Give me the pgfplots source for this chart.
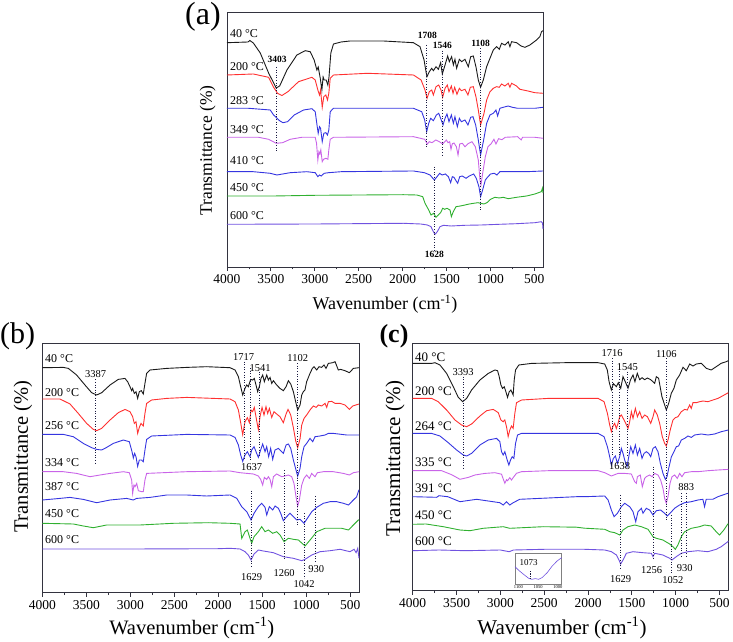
\documentclass[border=0pt]{standalone}
\usepackage{pgfplots}
\pgfplotsset{compat=1.18}
\usepackage{fontspec}
\setmainfont{Liberation Serif}
\definecolor{cK}{HTML}{1A1A1A}
\definecolor{cR}{HTML}{FF3030}
\definecolor{cB}{HTML}{3535E0}
\definecolor{cV}{HTML}{C964E8}
\definecolor{cG}{HTML}{30B030}
\definecolor{cP}{HTML}{7052E0}
\definecolor{axc}{HTML}{33333F}
\definecolor{dotc}{HTML}{1A1A40}
\pgfplotsset{
  ftir/.style={
    scale only axis, x dir=reverse, xmin=400, xmax=4000, ymin=0,
    xtick={500,1000,...,4000}, minor x tick num=1, ytick=\empty,
    xtick pos=bottom, tick align=outside,
    major tick length=4pt, minor tick length=2.5pt,
    axis line style={line width=0.9pt, color=axc},
    every tick/.style={line width=0.8pt, color=axc},
    tick label style={font=\fontsize{13.5}{14}\selectfont},
    /pgf/number format/assume math mode=true,
    /pgf/number format/1000 sep={},
    xlabel={Wavenumber (cm\textsuperscript{-1})}, ylabel={Transmittance (\%)},
    clip=false,
    every axis plot/.append style={line width=0.9pt, no marks},
  },
  dotline/.style={dotc, line width=0.95pt, dash pattern=on 1pt off 1.6pt},
}
\begin{document}
\begin{tikzpicture}
\useasboundingbox (0,0) rectangle (733pt,642pt);
\node[font=\fontsize{32}{34}\selectfont] at (203pt,625.5pt) {(a)};
\node[font=\fontsize{30}{32}\selectfont] at (17.5pt,306pt) {(b)};
\node[font=\fontsize{26}{28}\selectfont\bfseries] at (394pt,306.2pt) {(c)};

%%%%%%%%%%%%%%%% (a)
\begin{axis}[ftir, at={(227pt,375pt)}, anchor=south west, width=316pt, height=255pt, ymax=255,
  xlabel style={at={(axis description cs:0.5,-0.145)}, anchor=center, font=\fontsize{18}{20}\selectfont},
  ylabel style={at={(axis description cs:-0.061,0.457)}, anchor=center, font=\fontsize{17.5}{19}\selectfont}]
\addplot[cK] coordinates {(4000,224.3)(3760,225)(3740,226.5)(3700,224)(3621,214)(3526,194)(3440,179)(3400,181)(3317,197)(3204,212)(3109,216.3)(3052,215.3)(3007,207)(2976,197)(2961,200)(2938,189)(2919,177)(2905,190)(2893,187)(2870,187)(2851,182)(2838,190)(2817,214)(2787,223)(2700,225)(2597,226)(2218,226)(1876,224.3)(1801,220.3)(1755,207)(1733,195.3)(1722,190.3)(1695,195.3)(1668,198.7)(1649,196.3)(1619,200.3)(1592,197.7)(1566,204.3)(1547,193)(1516,202)(1486,211)(1467,205.3)(1441,210.3)(1421,202)(1403,207.7)(1384,198.7)(1353,207.7)(1327,205.3)(1289,207.7)(1251,200.3)(1224,210.3)(1194,211)(1164,200.3)(1137,187)(1111,179.7)(1080,187)(1042,200.3)(1004,208.7)(966,217)(929,220.3)(898,217.7)(872,223.7)(834,222)(796,225.3)(777,220.3)(758,225.3)(701,224.3)(650,221)(606,219.7)(549,222)(474,227)(436,230.3)(417,235.3)(400,236.3)};
\addplot[cR] coordinates {(4000,192)(3700,193)(3526,189.7)(3469,179.7)(3424,173.7)(3374,171.5)(3306,175.3)(3185,185.3)(3033,189.7)(2995,187)(2965,177)(2946,172)(2934,177)(2915,159.7)(2897,170.3)(2874,172)(2855,167)(2840,173.7)(2824,188.7)(2787,192)(2400,193.7)(1876,192)(1789,187)(1744,177)(1721,168.7)(1695,175.3)(1668,177)(1649,172)(1619,180.3)(1588,182)(1562,177)(1543,169.7)(1516,178.7)(1490,182)(1471,175.3)(1444,181)(1425,173.7)(1406,179.7)(1380,172.7)(1353,178.7)(1330,176.3)(1289,177.7)(1255,172)(1228,179.7)(1194,180.3)(1164,170.3)(1137,157)(1111,142)(1072,153.7)(1042,167)(1004,175.3)(966,178.7)(929,180.3)(898,179.7)(872,183)(834,181)(796,183.7)(777,179.7)(758,183.7)(701,181)(663,177.7)(587,176.3)(492,174.3)(400,173.7)};
\addplot[cB] coordinates {(4000,158.7)(3754,158.7)(3507,157)(3469,152)(3401,146.3)(3363,144.3)(3310,145.3)(3234,152)(3128,157)(3033,158.3)(2995,155.3)(2972,140.3)(2961,133.7)(2946,140.3)(2934,138.7)(2915,125.3)(2897,133.7)(2874,134.3)(2855,132)(2840,137)(2824,155.3)(2787,158.7)(1876,158.7)(1782,155.3)(1748,147)(1725,135.3)(1702,143.7)(1680,148.7)(1649,146.3)(1615,152)(1588,153.7)(1562,147.7)(1539,142)(1516,148.7)(1494,153)(1471,145.3)(1444,152)(1421,143.7)(1403,150.3)(1376,140.3)(1353,148.7)(1330,145.3)(1289,147)(1255,142)(1224,149.7)(1198,150.3)(1167,142)(1137,127)(1111,112)(1080,125.3)(1042,143.7)(1004,152)(966,153.7)(936,157)(917,151)(891,158.7)(853,159.7)(796,161)(750,159.7)(689,158.7)(587,158.7)(492,158.7)(400,159.7)};
\addplot[cV] coordinates {(4000,129.7)(3640,129.7)(3526,127.7)(3439,123.7)(3367,124.3)(3280,127.7)(3147,129.7)(2995,129.7)(2980,123.7)(2965,107)(2953,115.3)(2942,113)(2931,117)(2915,105.3)(2900,107.7)(2874,108.7)(2851,107.7)(2840,117)(2824,127.7)(2787,129.7)(1876,130.3)(1748,127.7)(1717,123)(1695,125.3)(1664,124.3)(1622,127)(1581,125.3)(1543,123)(1501,127)(1482,124.3)(1463,125.3)(1448,117.7)(1433,123.3)(1414,124)(1387,120.3)(1368,112)(1349,123)(1319,123.7)(1289,120.3)(1255,123.3)(1209,125.3)(1171,120.3)(1137,107)(1118,87)(1107,82)(1088,93.3)(1057,110.3)(1027,120.3)(993,123)(959,127.7)(936,123)(906,128.3)(868,127.3)(830,129.7)(689,130.3)(648,127)(633,129.7)(492,129.7)(400,128.7)};
\addplot[cB] coordinates {(4000,95.3)(3700,95.3)(3507,93.7)(3431,92)(3280,94.3)(3090,95.3)(2995,94.3)(2965,90.3)(2946,92)(2927,91)(2893,93.7)(2843,94.3)(2699,95.3)(1876,96)(1751,94.3)(1687,92)(1638,87)(1607,90.3)(1577,93.7)(1550,92)(1512,93)(1478,90.3)(1452,84.3)(1433,90.3)(1414,89.7)(1384,85.3)(1372,83.7)(1349,90.3)(1319,91)(1277,88.7)(1240,91)(1190,93)(1160,88.7)(1130,80.3)(1111,70.3)(1088,77)(1057,87)(1027,90.3)(997,93)(955,93.7)(925,92)(891,95.3)(796,95.3)(587,95.3)(400,96)};
\addplot[cG] coordinates {(4000,71)(3469,71)(2995,71.7)(2483,72)(1990,72.3)(1838,72)(1770,70.3)(1744,63.7)(1702,57)(1676,52)(1645,53.7)(1619,49.7)(1592,52)(1566,54.3)(1543,58.7)(1520,57.7)(1494,58.7)(1459,57)(1444,50.3)(1422,55.3)(1391,60.3)(1342,61)(1289,62)(1240,63)(1190,63.7)(1141,64.3)(1111,63.7)(1073,63)(1039,64.3)(997,67.7)(948,69.7)(898,69)(853,69.7)(796,68.3)(701,69.7)(587,71)(492,73)(420,75.3)(405,79)(400,74)};
\addplot[cP] coordinates {(4000,42.7)(2995,43)(1990,43.7)(1793,43)(1717,42)(1676,40.3)(1649,35.3)(1630,32.7)(1604,35.3)(1573,40.3)(1535,41.7)(1448,41)(1289,41.7)(1103,42)(898,42.7)(701,43.3)(492,44.3)(420,45.3)(405,44)(400,38)};
\addplot[dotline] coordinates {(3442,200)(3442,116)};
\addplot[dotline] coordinates {(1725,222)(1725,118.7)};
\addplot[dotline] coordinates {(1547,216.3)(1547,111)};
\addplot[dotline] coordinates {(1111,218.7)(1111,56.3)};
\addplot[dotline] coordinates {(1638,100.3)(1638,17)};
\begin{scope}[every node/.style={font=\fontsize{9.5}{10}\selectfont\bfseries, inner sep=0pt}]
\node at (axis cs:3428,207.5) {3403};
\node at (axis cs:1717,232) {1708};
\node at (axis cs:1547,221.5) {1546};
\node at (axis cs:1111,224) {1108};
\node at (axis cs:1638,12.5) {1628};
\end{scope}
\begin{scope}[every node/.style={font=\fontsize{12}{13}\selectfont, anchor=west, inner sep=0pt}]
\node at (axis cs:3966,233.7) {40 °C};
\node at (axis cs:3966,200.3) {200 °C};
\node at (axis cs:3966,166.5) {283 °C};
\node at (axis cs:3966,137) {349 °C};
\node at (axis cs:3966,106.3) {410 °C};
\node at (axis cs:3966,79.3) {450 °C};
\node at (axis cs:3966,51.3) {600 °C};
\end{scope}
\end{axis}

%%%%%%%%%%%%%%%% (b)
\begin{axis}[ftir, at={(42.3pt,49.3pt)}, anchor=south west, width=316.7pt, height=249.4pt, ymax=249.4,
  xlabel style={at={(axis description cs:0.472,-0.141)}, anchor=center, font=\fontsize{20.5}{22}\selectfont},
  ylabel style={at={(axis description cs:-0.061,0.545)}, anchor=center, font=\fontsize{20.5}{22}\selectfont}]
\addplot[cK] coordinates {(4000,225)(3761,225.3)(3704,224.3)(3610,217.7)(3515,207.7)(3439,200)(3382,197.7)(3325,200)(3230,207.7)(3136,213.3)(3060,214.3)(3030,211)(3003,206)(2984,202)(2973,204.3)(2954,199.3)(2935,201)(2916,194.3)(2897,201)(2874,202)(2852,198.7)(2833,209.3)(2814,219.3)(2776,222.7)(2586,224.3)(2359,225.3)(2132,226)(1866,225)(1809,222.7)(1771,216)(1745,206)(1722,197.7)(1696,204.3)(1677,207.7)(1658,206)(1631,213.3)(1609,212.7)(1590,214.3)(1571,207.7)(1552,201)(1533,206)(1514,214.3)(1495,217.7)(1476,211)(1449,217.7)(1430,212.7)(1411,215.3)(1392,209.3)(1373,212)(1336,207.7)(1298,204.3)(1260,202)(1229,206)(1203,212)(1176,208.7)(1146,201)(1120,191)(1097,182.7)(1070,187.7)(1051,197.7)(1032,201)(1014,202.7)(995,211)(957,219.3)(930,224.3)(911,226)(881,222.7)(854,226)(824,225.3)(797,227.7)(775,224.3)(748,229.3)(699,230)(672,231)(635,222.7)(608,223.3)(559,222)(509,220)(464,224.3)(400,225)};
\addplot[cR] coordinates {(4000,193.7)(3799,193.7)(3685,188.7)(3591,179.3)(3496,169.3)(3420,163.3)(3382,162)(3325,164.3)(3230,172.7)(3136,180)(3060,183.3)(3003,181)(2973,176)(2954,169.3)(2935,171)(2916,159.3)(2897,165.3)(2878,169.3)(2852,166.7)(2833,179.3)(2814,189.3)(2757,192.7)(2586,194.3)(2359,195.3)(1866,193.7)(1809,191)(1771,182.7)(1745,170)(1722,158)(1696,171)(1669,175)(1646,170)(1627,182.7)(1609,181)(1590,185.3)(1563,172)(1544,163)(1525,176)(1502,185.3)(1480,177.7)(1457,186)(1438,179.3)(1419,184.3)(1392,175.3)(1366,181)(1336,178.7)(1298,176)(1260,170)(1229,178.7)(1207,183.3)(1176,177.7)(1146,165)(1120,152)(1097,145)(1070,154)(1051,167.7)(1025,174.3)(995,177.7)(957,182.7)(919,186.7)(888,185.3)(862,187.7)(824,186.7)(786,189.3)(767,185.3)(748,191)(710,191.3)(672,189.3)(615,189.3)(559,187.7)(509,183.3)(471,186.7)(400,188.7)};
\addplot[cB] coordinates {(4000,158.3)(3761,158.3)(3648,156)(3534,149.3)(3439,145)(3382,143.3)(3325,142.7)(3268,145.3)(3193,149.3)(3079,152.7)(3011,151)(2980,141)(2965,134.7)(2950,139.3)(2935,136)(2916,126.3)(2897,132.7)(2871,132.7)(2852,131)(2833,142.7)(2814,153.3)(2757,156.7)(2359,158.3)(1866,157.7)(1809,155.3)(1771,147.7)(1745,137.7)(1722,131.3)(1696,137.7)(1669,141)(1639,136)(1620,142.7)(1593,146)(1563,139.3)(1544,135.3)(1518,142.7)(1495,148.7)(1468,141)(1449,146)(1427,136)(1404,144.3)(1381,133.3)(1355,142.7)(1317,144.3)(1279,141)(1260,139.3)(1229,147.7)(1203,148.7)(1176,144.3)(1146,132.7)(1116,122.7)(1097,116.5)(1070,124.3)(1051,136)(1025,146)(995,149.3)(957,154.3)(926,151)(900,156)(843,156.7)(786,157.7)(748,159.3)(691,159.3)(540,157.7)(400,157.7)};
\addplot[cV] coordinates {(4000,121)(3761,121)(3610,119.3)(3458,116)(3344,117.7)(3230,119.3)(3079,121)(3011,120)(2984,112.7)(2973,99.3)(2958,107.7)(2946,106)(2927,109.3)(2908,102)(2871,101)(2852,101)(2833,112.7)(2814,119.3)(2359,121)(1866,121.7)(1752,120)(1601,118.7)(1544,116.7)(1518,113.3)(1495,107.7)(1476,115.3)(1449,113.3)(1430,116)(1411,113.3)(1392,106)(1373,116)(1336,118.7)(1279,116)(1241,116.7)(1203,117.7)(1165,116)(1139,109.3)(1116,96)(1097,86.5)(1078,92.7)(1051,107.7)(1025,114.3)(995,117.7)(964,114.3)(938,119.3)(900,116)(873,120)(805,121)(691,121)(578,119.3)(509,117.7)(464,120)(400,121)};
\addplot[cB] coordinates {(4000,92.7)(3799,94.3)(3685,95.3)(3534,93.3)(3382,90)(3230,92.7)(3041,94.3)(2965,92.7)(2927,94.3)(2776,95.3)(2586,97.7)(2359,97.7)(2132,96.7)(1866,97.7)(1790,94.4)(1733,86)(1676,81)(1627,72.7)(1593,79.4)(1544,86)(1506,89.4)(1468,85.4)(1449,77.7)(1419,86)(1381,82.7)(1354,86.7)(1316,84.4)(1290,79.4)(1260,72)(1222,76)(1184,79.4)(1146,76)(1108,72.7)(1070,73.4)(1025,69.4)(987,74.4)(937,81)(880,85.4)(805,89.4)(729,91)(653,91)(577,89.4)(520,87.7)(464,92.7)(426,96)(400,103)};
\addplot[cG] coordinates {(4000,69.4)(3647,68.7)(3533,66.7)(3420,65)(3268,67.7)(2889,67.7)(2510,69.4)(2112,70)(1866,69.4)(1752,68.7)(1733,54.4)(1695,61)(1669,62.7)(1639,54.4)(1620,49.4)(1593,56)(1544,61)(1506,66)(1468,61)(1430,62.7)(1381,59.4)(1335,61)(1297,57.7)(1252,51)(1203,54.4)(1146,53.4)(1089,52.7)(1013,46.7)(956,52.7)(880,61)(786,64.4)(691,64.4)(596,64.4)(520,62.7)(464,67.7)(407,72.7)(400,73)};
\addplot[cP] coordinates {(4000,43.7)(3000,43.7)(2000,44)(1866,44.4)(1752,43.7)(1695,41)(1658,37.7)(1627,32.7)(1593,38.7)(1544,42.7)(1487,41.7)(1373,40)(1260,36)(1146,34.4)(1051,32)(1013,33.4)(937,37.7)(843,41)(729,42)(615,43.4)(502,41)(456,43.4)(433,40)(414,44.4)(400,34.4)};
\addplot[dotline] coordinates {(3390,213.3)(3390,129.3)};
\addplot[dotline] coordinates {(1707,231)(1707,132.7)};
\addplot[dotline] coordinates {(1638,224.4)(1638,132.7)};
\addplot[dotline] coordinates {(1536,221)(1536,137.7)};
\addplot[dotline] coordinates {(1096,229.4)(1096,67.7)};
\addplot[dotline] coordinates {(1620,102)(1620,24.4)};
\addplot[dotline] coordinates {(1252,122.7)(1252,32.7)};
\addplot[dotline] coordinates {(1025,79.4)(1025,14.4)};
\addplot[dotline] coordinates {(892,96.7)(892,29.4)};
\begin{scope}[every node/.style={font=\fontsize{10.5}{11}\selectfont, inner sep=0pt}]
\node at (axis cs:3395,218.5) {3387};
\node at (axis cs:1712,235.5) {1717};
\node at (axis cs:1620,126) {1637};
\node at (axis cs:1525,224.5) {1541};
\node at (axis cs:1096,234.5) {1102};
\node at (axis cs:1620,16) {1629};
\node at (axis cs:1252,19.4) {1260};
\node at (axis cs:1025,9) {1042};
\node at (axis cs:885,23.4) {930};
\end{scope}
\begin{scope}[every node/.style={font=\fontsize{12}{13}\selectfont, anchor=west, inner sep=0pt}]
\node at (axis cs:3969,234.4) {40 °C};
\node at (axis cs:3969,200.4) {200 °C};
\node at (axis cs:3969,166.7) {256 °C};
\node at (axis cs:3969,130) {334 °C};
\node at (axis cs:3969,106) {387 °C};
\node at (axis cs:3969,79.4) {450 °C};
\node at (axis cs:3969,52.7) {600 °C};
\end{scope}
\end{axis}

%%%%%%%%%%%%%%%% (c)
\begin{axis}[ftir, at={(412.7pt,51.3pt)}, anchor=south west, width=315.6pt, height=247.4pt, ymax=247.4,
  xlabel style={at={(axis description cs:0.473,-0.151)}, anchor=center, font=\fontsize{21}{23}\selectfont},
  ylabel style={at={(axis description cs:-0.056,0.535)}, anchor=center, font=\fontsize{21}{23}\selectfont}]
\addplot[cK] coordinates {(4000,227.3)(3784,227.3)(3746,228)(3689,225.7)(3613,217.3)(3537,204)(3480,193.3)(3431,189)(3385,192.3)(3328,200.7)(3233,210.7)(3138,217.3)(3062,220.7)(3032,220)(3013,214)(2994,205.7)(2975,202.3)(2956,204)(2937,199)(2918,193.3)(2899,199)(2880,200.7)(2854,195.7)(2842,210.7)(2827,220.7)(2789,225.7)(2645,227.3)(2265,228)(1885,228)(1810,226.7)(1780,220.7)(1760,209)(1734,200.7)(1710,207)(1677,204)(1655,208)(1627,202.4)(1601,214)(1570,208)(1544,202.4)(1515,211)(1487,215.7)(1465,209)(1438,217.4)(1411,211)(1384,213)(1354,211)(1323,212.7)(1285,211)(1240,207.4)(1221,214)(1195,212.4)(1157,194)(1107,180.7)(1080,187.4)(1050,197.4)(1020,202.4)(993,210.7)(955,215.7)(917,223.4)(879,220)(841,226.7)(803,224.7)(765,226.7)(708,227.4)(652,222.4)(595,220.7)(538,224)(481,227.4)(424,229)(400,230)};
\addplot[cR] coordinates {(4000,192.3)(3784,192.3)(3708,189)(3613,180.7)(3518,170.7)(3442,165.7)(3385,164)(3328,166.7)(3233,174.7)(3157,180)(3081,181.3)(3024,178)(2994,170.7)(2968,169)(2949,170.7)(2930,164)(2911,154)(2892,160.7)(2873,164.7)(2854,162.3)(2835,177.3)(2816,188)(2759,190.7)(2455,192.3)(1885,192.3)(1817,189)(1779,177.3)(1753,165.7)(1734,159)(1715,164.7)(1696,167.3)(1677,162.3)(1658,167.3)(1639,174)(1620,175.7)(1589,170.7)(1570,167.3)(1544,162.3)(1525,169)(1506,179)(1487,172.3)(1460,182.3)(1437,174)(1411,179)(1384,172.3)(1354,175.7)(1323,174)(1285,167.3)(1259,174)(1240,180.7)(1210,175.7)(1183,167.3)(1153,154)(1126,147.3)(1107,144.7)(1088,150.7)(1058,162.3)(1031,170.7)(1005,173)(974,174)(936,179)(898,181.3)(868,180.7)(841,185.7)(822,182.3)(803,188)(765,188)(727,189)(689,189.7)(632,189)(575,190.7)(518,192.3)(461,195)(400,198)};
\addplot[cB] coordinates {(4000,157.3)(3784,157.3)(3689,154.7)(3594,148)(3499,140.7)(3423,135.7)(3385,134.7)(3328,137.3)(3233,145.7)(3138,150.7)(3044,152.3)(3006,149)(2987,139)(2968,135.7)(2949,139)(2922,130.7)(2903,125.7)(2884,130.7)(2865,134)(2846,132.3)(2827,147.3)(2804,155.7)(2759,157.3)(1885,157.3)(1817,154)(1779,144)(1753,134)(1734,125.7)(1711,132.3)(1688,134.7)(1665,127.3)(1639,134)(1620,142.3)(1601,137.3)(1582,130.7)(1555,124)(1532,135.7)(1513,144)(1487,137.3)(1460,145.7)(1437,135.7)(1411,142.3)(1384,132.3)(1361,137.3)(1335,139)(1308,137.3)(1285,134)(1259,142.3)(1232,144)(1202,139)(1175,127.3)(1145,117.3)(1118,111.3)(1099,114)(1080,122.3)(1050,133.7)(1020,139)(993,144)(967,144.7)(936,150.7)(898,152.3)(860,154.7)(822,153.3)(784,155.7)(708,156.7)(632,155.7)(556,156.7)(480,159)(400,160.7)};
\addplot[cV] coordinates {(4000,120)(3670,120)(3556,116)(3461,111.4)(3366,113.3)(3290,115.7)(3176,117.3)(3062,118)(2987,116.5)(2949,107.4)(2930,111)(2918,110)(2892,113)(2873,110.7)(2846,114)(2816,117.4)(2759,119)(2455,120)(1885,120)(1810,118)(1734,114.7)(1658,117.3)(1582,117.3)(1506,116.7)(1468,109)(1449,107.3)(1437,114)(1404,115.7)(1381,104)(1354,112.3)(1335,114)(1297,115.7)(1270,114)(1240,117.3)(1202,115.7)(1172,110.7)(1145,102.3)(1126,92.3)(1107,87.4)(1088,94)(1065,107.3)(1042,114)(1012,115.7)(982,112.3)(955,117.3)(929,114)(898,118)(822,119)(746,119)(632,120)(518,120.7)(400,121.3)};
\addplot[cB] coordinates {(4000,94)(3727,93.4)(3700,95)(3600,94)(3461,89)(3271,91.4)(3006,88)(2968,85.7)(2930,89)(2892,85.7)(2854,88)(2778,91.4)(2132,94)(2038,94)(1810,94.7)(1771,90.7)(1734,80.7)(1703,74)(1665,77.4)(1620,84)(1582,87.4)(1525,84)(1487,79)(1456,69)(1430,79)(1392,82.4)(1373,77.4)(1335,82.4)(1297,80.7)(1259,75.7)(1221,80)(1172,80.7)(1126,77.4)(1096,74.7)(1058,78)(1013,82.4)(956,85.7)(898,88)(822,89)(746,90.7)(690,91.4)(671,84)(652,91.4)(576,91.4)(519,94)(462,95.7)(405,97.4)(400,97.4)};
\addplot[cG] coordinates {(4000,66.4)(3848,66.7)(3651,64)(3461,60.7)(3347,60)(3196,62.4)(2968,64)(2892,62.4)(2512,64)(2132,63.5)(2038,62.5)(1809,61.4)(1752,59)(1695,58)(1638,55.7)(1601,60.7)(1544,64)(1468,65.7)(1392,64)(1316,61.4)(1259,54)(1221,52.4)(1146,50.7)(1069,46.7)(1032,44)(1004,41.4)(975,45.7)(936,54)(898,59)(822,62.4)(728,64)(671,65.7)(595,64.7)(538,59)(500,55.7)(451,60.7)(405,66.7)(400,67)};
\addplot[cP] coordinates {(4000,40)(3700,40.7)(3400,40)(3000,40.7)(2900,39)(2850,40.7)(2500,41.4)(2038,41.4)(1809,40.7)(1733,39)(1676,35.7)(1647,30.7)(1628,26.7)(1601,30.7)(1563,37.4)(1487,39)(1373,38)(1278,37.4)(1259,34)(1240,37.4)(1146,35.7)(1069,32.4)(1043,30.7)(994,34)(936,37.4)(860,39)(746,40)(633,39)(538,41.4)(481,44)(405,49)(400,49.5)};
\addplot[dotline] coordinates {(3426,214)(3426,121.4)};
\addplot[dotline] coordinates {(1726,232.4)(1726,135.7)};
\addplot[dotline] coordinates {(1646,222)(1646,135.7)};
\addplot[dotline] coordinates {(1551,219)(1551,135.7)};
\addplot[dotline] coordinates {(1107,232.4)(1107,69)};
\addplot[dotline] coordinates {(1259,124)(1259,32.4)};
\addplot[dotline] coordinates {(1631,95.7)(1631,20.7)};
\addplot[dotline] coordinates {(1050,75.7)(1050,17.4)};
\addplot[dotline] coordinates {(929,97.4)(929,32.4)};
\addplot[dotline] coordinates {(879,97.4)(879,32.4)};
\begin{scope}[every node/.style={font=\fontsize{10.5}{11}\selectfont, inner sep=0pt}]
\node at (axis cs:3424,218.5) {3393};
\node at (axis cs:1726,237.5) {1716};
\node at (axis cs:1640,124.7) {1638};
\node at (axis cs:1551,224) {1545};
\node at (axis cs:1107,237) {1106};
\node at (axis cs:1276,20.7) {1256};
\node at (axis cs:1627,11.4) {1629};
\node at (axis cs:1031,10.7) {1052};
\node at (axis cs:898,22.4) {930};
\node at (axis cs:879,104) {883};
\end{scope}
\begin{scope}[every node/.style={font=\fontsize{13}{14}\selectfont, anchor=west, inner sep=0pt}]
\node at (axis cs:3974,233.4) {40 °C};
\node at (axis cs:3974,199) {200 °C};
\node at (axis cs:3974,164.7) {264 °C};
\node at (axis cs:3974,128) {335 °C};
\node at (axis cs:3974,102.4) {391 °C};
\node at (axis cs:3974,75.7) {450 °C};
\node at (axis cs:3974,49) {600 °C};
\end{scope}
\end{axis}

%%%%%%%%%%%%%%%% inset of (c)
\begin{axis}[at={(515pt,57.7pt)}, anchor=south west, scale only axis, width=46.7pt, height=31pt,
  x dir=reverse, xmin=990.5, xmax=1108.5, ymin=0, ymax=31,
  xtick={1000,1050,1100}, ytick=\empty, major tick length=0pt, xtick pos=bottom,
  axis background/.style={fill=white},
  axis line style={line width=0.6pt, color=gray},
  tick label style={font=\fontsize{4.5}{5}\selectfont, inner sep=0.6pt},
  /pgf/number format/assume math mode=true, /pgf/number format/1000 sep={},
  clip=false]
\addplot[cP, line width=0.6pt, no marks] coordinates {(1108.5,17.6)(1100,14.3)(1087,10)(1074,6)(1066,5)(1057,5.7)(1049,5)(1040,6.7)(1027,11.7)(1014.5,18.3)(1002,23.3)(990.5,26.7)};
\addplot[dotc, line width=0.6pt, dash pattern=on 0.7pt off 1.1pt] coordinates {(1070,5.5)(1070,14)};
\node[font=\fontsize{9}{10}\selectfont, inner sep=0pt] at (axis cs:1074,22) {1073};
\end{axis}
\end{tikzpicture}
\end{document}
